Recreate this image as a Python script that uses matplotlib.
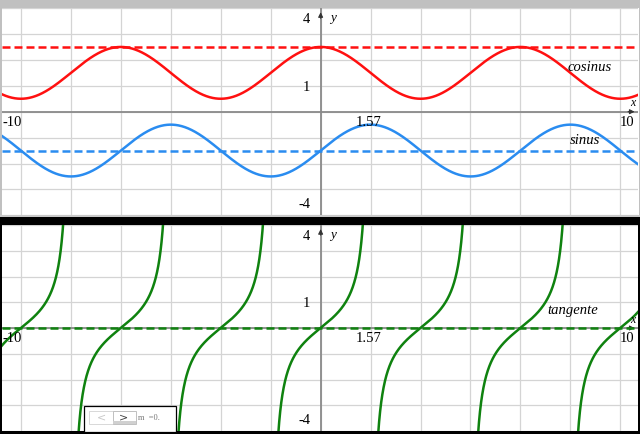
import numpy as np
import matplotlib
matplotlib.use("Agg")
import matplotlib.pyplot as plt
from matplotlib.patches import Rectangle

# ---- data ----
x_limits = [-10.02, 9.98]
y_limits = [-4, 4]
cos_amplitude = 1.0
cos_offset = 1.5          # cosinus curve is cos(x) + 1.5
cos_dash_level = 2.5      # red dashed line
sin_amplitude = 1.0
sin_offset = -1.5         # sinus curve is sin(x) - 1.5
sin_dash_level = -1.5     # blue dashed line
tan_dash_level = 0.0      # green dashed line
x_tick_labels = ["-10", "1.57", "10"]
y_tick_labels = ["4", "1", "-4"]
curve_labels = ["cosinus", "sinus", "tangente"]
grid_x_step = np.pi / 2
grid_y_step = 1

W, H = 640, 434
fig = plt.figure(figsize=(W / 100, H / 100), dpi=100)
fig.patch.set_facecolor("white")

def fr(x0, y0, x1, y1):
    """pixel box (top-left origin) -> figure fraction rect"""
    return [x0 / W, 1 - y1 / H, (x1 - x0) / W, (y1 - y0) / H]

def add_rect(x0, y0, x1, y1, **kw):
    l, b, w, h = fr(x0, y0, x1, y1)
    fig.add_artist(Rectangle((l, b), w, h, transform=fig.transFigure, **kw))

# window chrome
add_rect(0, 0, 640, 7.5, facecolor="#c0c0c0", edgecolor="none", zorder=0)
add_rect(0, 7.5, 1.5, 217, facecolor="#c0c0c0", edgecolor="none", zorder=0)
add_rect(638.5, 7.5, 640, 217, facecolor="#c0c0c0", edgecolor="none", zorder=0)
add_rect(0, 215, 640, 217, facecolor="#c8c8c8", edgecolor="none", zorder=0)
add_rect(0, 217, 640, 434, facecolor="black", edgecolor="none", zorder=0)

serif = ["Liberation Serif", "DejaVu Serif"]
grid_col = "#d4d4d4"
axis_col = "#8a8a8a"

def setup(ax):
    ax.set_xlim(*x_limits)
    ax.set_ylim(*y_limits)
    ax.set_facecolor("white")
    for s in ax.spines.values():
        s.set_visible(False)
    ax.set_xticks([])
    ax.set_yticks([])
    k = np.arange(-7, 8)
    for gx in k * grid_x_step:
        if x_limits[0] < gx < x_limits[1]:
            ax.axvline(gx, color=grid_col, lw=0.9, zorder=1)
    for gy in np.arange(-4, 5) * grid_y_step:
        ax.axhline(gy, color=grid_col, lw=0.9, zorder=1)
    # axes with arrows
    ax.plot([x_limits[0], x_limits[1]], [0, 0], color=axis_col, lw=1.3, zorder=2)
    ax.plot([0, 0], [y_limits[0], y_limits[1]], color=axis_col, lw=1.3, zorder=2)
    ax.annotate("", xy=(x_limits[1] - 0.02, 0), xytext=(x_limits[1] - 0.4, 0),
                arrowprops=dict(arrowstyle="-|>", color="#333333", lw=0.8,
                                mutation_scale=7), zorder=3)
    ax.annotate("", xy=(0, 3.95), xytext=(0, 3.5),
                arrowprops=dict(arrowstyle="-|>", color="#333333", lw=0.8,
                                mutation_scale=7), zorder=3)
    ax.text(0.4, 3.6, "y", family=serif, style="italic", fontsize=9.5,
            ha="center", va="center", zorder=5)
    ax.text(9.8, 0.32, "x", family=serif, style="italic", fontsize=8.5,
            ha="center", va="center", zorder=5)

def tick_labels(ax, ylab_y):
    fs = 10.5
    ax.text(-9.7, ylab_y, x_tick_labels[0], family=serif, fontsize=fs,
            ha="center", va="center", zorder=5)
    ax.text(1.5, ylab_y, x_tick_labels[1], family=serif, fontsize=fs,
            ha="center", va="center", zorder=5)
    ax.text(9.63, ylab_y, x_tick_labels[2], family=serif, fontsize=fs,
            ha="center", va="center", zorder=5)
    ax.text(-0.44, 3.57, y_tick_labels[0], family=serif, fontsize=fs,
            ha="center", va="center", zorder=5)
    ax.text(-0.44, 0.95, y_tick_labels[1], family=serif, fontsize=fs,
            ha="center", va="center", zorder=5)
    ax.text(-0.5, -3.6, y_tick_labels[2], family=serif, fontsize=fs,
            ha="center", va="center", zorder=5)

dash = (3.2, 1.6)
x = np.linspace(x_limits[0], x_limits[1], 2000)

# ---- top panel ----
ax1 = fig.add_axes(fr(2, 8.1, 638, 215.3))
setup(ax1)
red = "#ff1010"
blue = "#2a8cf0"
ax1.plot(x, cos_amplitude * np.cos(x) + cos_offset, color=red, lw=1.8, zorder=4)
ax1.axhline(cos_dash_level, color=red, lw=1.8, dashes=dash, zorder=4)
ax1.plot(x, sin_amplitude * np.sin(x) + sin_offset, color=blue, lw=1.8, zorder=4)
ax1.axhline(sin_dash_level, color=blue, lw=1.8, dashes=dash, zorder=4)
tick_labels(ax1, -0.4)
ax1.text(8.47, 1.71, curve_labels[0], family=serif, style="italic", fontsize=10.5,
         ha="center", va="center", zorder=5)
ax1.text(8.31, -1.12, curve_labels[1], family=serif, style="italic", fontsize=10.5,
         ha="center", va="center", zorder=5)

# ---- bottom panel ----
ax2 = fig.add_axes(fr(2, 225, 638, 431))
setup(ax2)
green = "#0f820f"
for k in range(-4, 5):
    xs = np.linspace(k * np.pi - np.pi / 2 + 1e-4, k * np.pi + np.pi / 2 - 1e-4, 800)
    ys = np.tan(xs)
    ax2.plot(xs, ys, color=green, lw=1.8, zorder=4)
ax2.axhline(tan_dash_level, color=green, lw=1.8, dashes=dash, zorder=4)
tick_labels(ax2, -0.4)
ax2.text(7.94, 0.68, curve_labels[2], family=serif, style="italic", fontsize=10.5,
         ha="center", va="center", zorder=5)

# ---- slider widget (bottom-left) ----
add_rect(84, 406, 176, 432, facecolor="white", edgecolor="black", lw=0.9, zorder=10)
add_rect(89, 411, 113, 424, facecolor="white", edgecolor="#d8d8d8", lw=0.7, zorder=11)
add_rect(113, 411, 136, 424, facecolor="white", edgecolor="#c0c0c0", lw=0.7, zorder=11)
add_rect(113, 421, 136, 424, facecolor="#d0d0d0", edgecolor="none", zorder=11)
fig.text(101 / W, 1 - 417 / H, "<", color="#c8c8c8", fontsize=8,
         ha="center", va="center", zorder=12)
fig.text(124 / W, 1 - 417 / H, ">", color="#444444", fontsize=8,
         ha="center", va="center", zorder=12)
fig.text(138 / W, 1 - 418 / H, "m  =0.", color="#777777", fontsize=6, family=serif,
         ha="left", va="center", zorder=12)

fig.savefig("out.png", dpi=100, facecolor=fig.get_facecolor())
